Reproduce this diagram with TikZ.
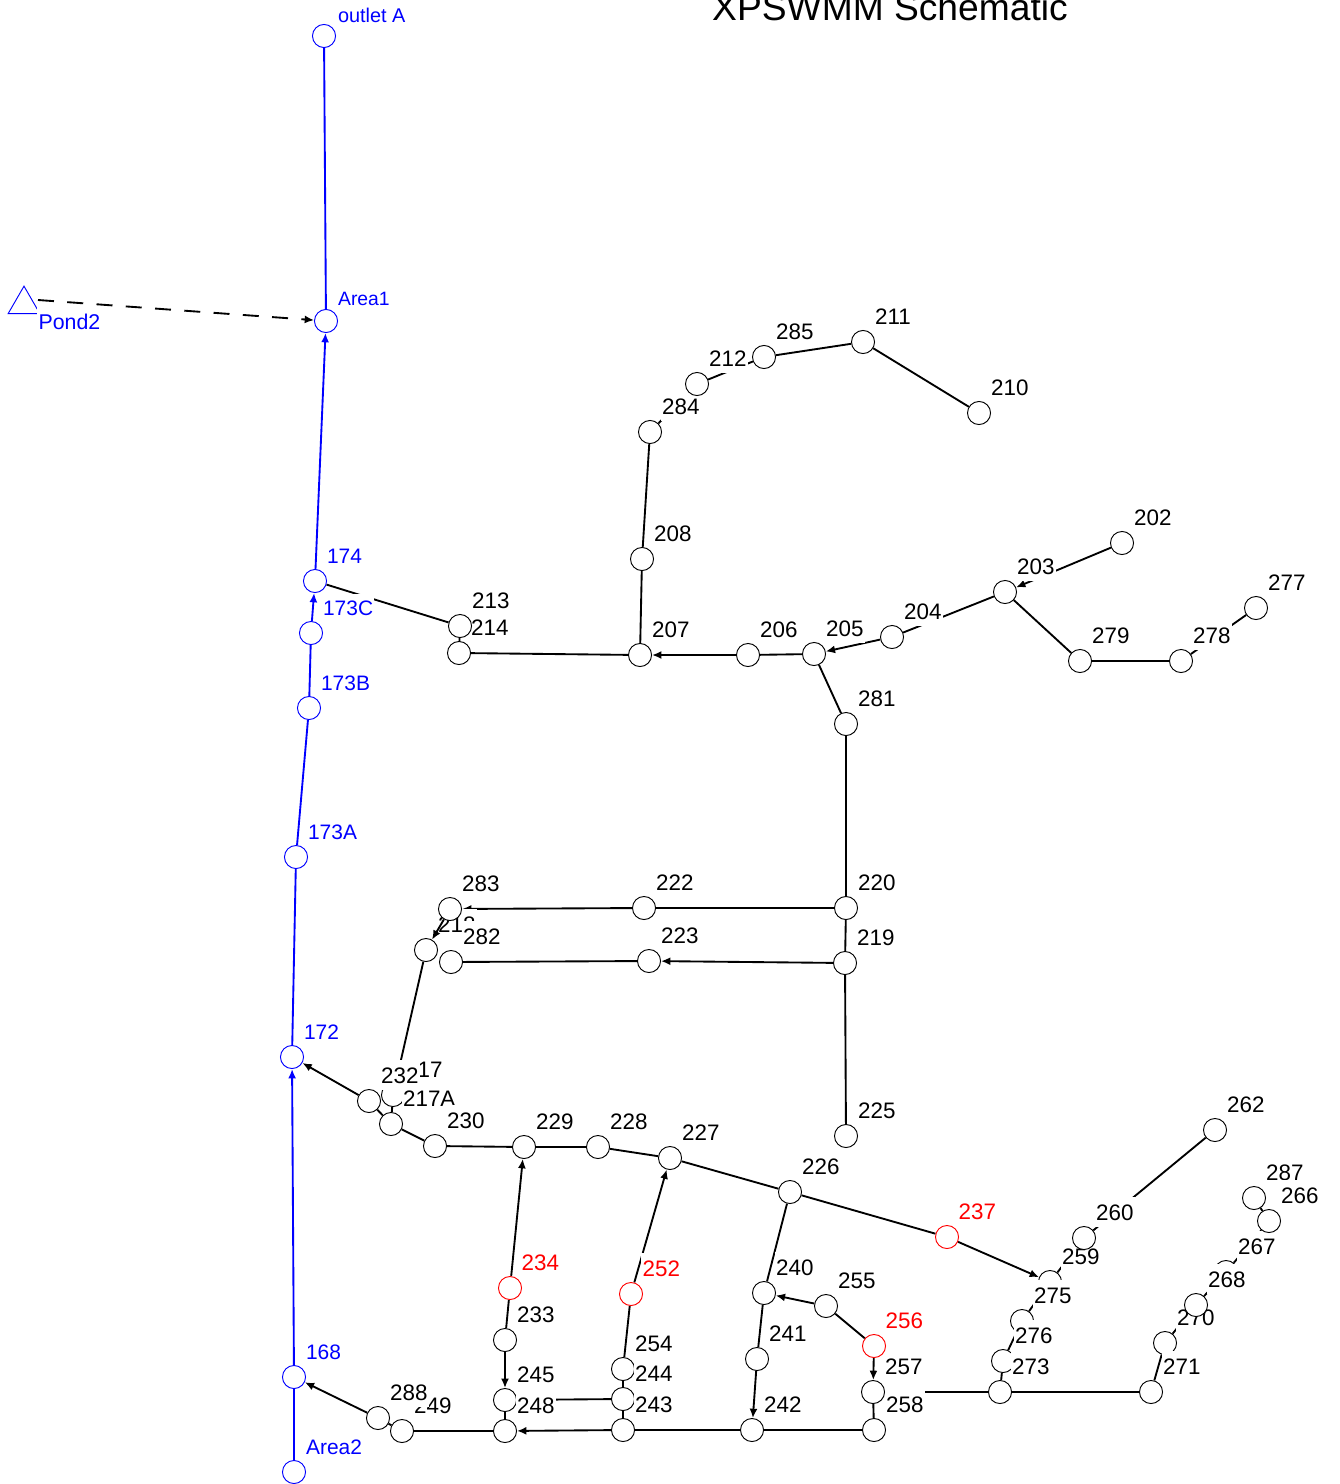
\documentclass[tikz,border=0pt]{standalone}
\usepackage{fontspec}
\setmainfont{Liberation Sans}
\usepackage{tikz}
\usetikzlibrary{arrows.meta,backgrounds,shapes.geometric}
\definecolor{swmmBlue}{HTML}{0000FF}
\definecolor{swmmRed}{HTML}{FF0000}
\begin{document}
\begin{tikzpicture}[x=0.75pt,y=-0.75pt,
    stn/.style={circle,draw=black,line width=0.7pt,fill=white,inner sep=0pt,minimum size=17.3pt},
    lbl/.style={anchor=west,fill=white,inner ysep=0pt,inner xsep=1pt,text height=17pt,text depth=4.8pt,font=\fontsize{16.8}{18}\selectfont},
    bluelbl/.style={lbl,text=swmmBlue,text height=16.5pt,text depth=4.5pt},
    pipe/.style={line width=1.4pt,black},
    flow/.style={pipe,-{Latex[length=7pt,width=6pt]}}]
      \useasboundingbox (0,0) rectangle (1339,1484);
      \node[anchor=base,font=\fontsize{27.9}{30}\selectfont] (title) at (890,21) {XPSWMM Schematic};

      \foreach \id/\x/\y in {
          210/979/413,211/863/342,285/764/357,284/650/432,212/697/384,208/642/559,
          207/640/655,206/748/655,205/814/654,204/892/637,203/1005/592,202/1122/543,
          279/1080/661,278/1181/661,277/1256/608,281/846/724,214/459/653,213/460/626,
          225/846/1136,220/846/908,219/845/963,222/644/908,223/649/961,
          218/426/950,283/450/909,282/451/962,217/393/1095,217A/391/1124,232/369/1101,
          230/435/1146,229/524/1147,228/598/1147,227/670/1158,226/790/1192,
          262/1215/1130,259/1050/1282,260/1084/1238,275/1022/1321,276/1003/1361,273/1000/1392,
          287/1254/1198,267/1226/1272,266/1269/1221,270/1165/1343,268/1196/1305,271/1151/1392,
          233/505/1340,245/505/1400,248/505/1431,254/623/1369,244/623/1399,243/623/1430,
          240/764/1293,241/757/1359,242/752/1430,255/826/1306,257/873/1392,258/874/1430,
          249/402/1431,288/378/1418} {
        \node[stn] (n\id) at (\x,\y) {};
        \node[lbl] (t\id) at ([shift={(10.5,-26)}]n\id.center) {\id};
      }
      \foreach \id/\x/\y in {237/947/1237,234/510/1288,252/631/1294,256/874/1346} {
        \node[stn,draw=swmmRed] (n\id) at (\x,\y) {};
        \node[lbl,text=swmmRed] (t\id) at ([shift={(10,-26)}]n\id.center) {\id};
      }
      \foreach \id/\x/\y in {174/315/581,173C/311/633,173B/309/708,173A/296/857,172/292/1057,168/294/1377,Area2/294/1472} {
        \node[stn,draw=swmmBlue] (n\id) at (\x,\y) {};
        \node[bluelbl,font=\fontsize{15.7}{18}\selectfont] (t\id) at ([shift={(10.5,-25.5)}]n\id.center) {\id};
      }
      \node[stn,draw=swmmBlue] (nOutlet) at (324,36) {};
      \node[bluelbl,font=\fontsize{14.9}{18}\selectfont] (tOutlet) at (336.5,15) {outlet A};
      \node[stn,draw=swmmBlue] (nArea1) at (326,321) {};
      \node[bluelbl,font=\fontsize{14.5}{18}\selectfont] (tArea1) at (336.5,297) {Area1};
      \node[regular polygon,regular polygon sides=3,draw=swmmBlue,line width=0.7pt,inner sep=0pt,minimum size=27.5pt] (nPond2) at (24,304.5) {};
      \node[bluelbl,font=\fontsize{16}{18}\selectfont] (tPond2) at (37,321) {Pond2};
      \coordinate (pondout) at (38,300);

      \begin{scope}[on background layer]
        \foreach \a/\b in {nOutlet/nArea1,n173B/n173C,n173A/n173B,n172/n173A,nArea2/n168}
          \draw[pipe,swmmBlue] (\a) -- (\b);
        \foreach \a/\b in {n174/nArea1,n173C/n174,n168/n172}
          \draw[flow,swmmBlue] (\a) -- (\b);
        \draw[flow,dash pattern=on 12pt off 10pt] (pondout) -- (nArea1);
        \foreach \a/\b in {n174/n213,n213/n214,n214/n207,n206/n205,n204/n203,n203/n279,n279/n278,n278/n277,
            n205/n281,n281/n220,n220/n219,n219/n225,n220/n222,n218/n217,n223/n282,
            n207/n208,n208/n284,n284/n212,n212/n285,n285/n211,n211/n210,
            n217/n217A,n232/n217A,n217A/n230,n230/n229,n229/n228,n228/n227,n227/n226,n226/n237,
            n259/n260,n260/n262,n259/n275,n275/n276,n276/n273,n273/n271,n271/n270,n270/n268,n268/n267,n267/n266,n266/n287,
            n257/n273,n257/n258,n255/n256,n226/n240,n240/n241,n242/n258,n243/n242,n248/n249,n288/n249,
            n245/n248,n245/n244,n244/n243,n254/n244,n252/n254,n234/n233}
          \draw[pipe] (\a) -- (\b);
        \foreach \a/\b in {n206/n207,n204/n205,n202/n203,n222/n283,n219/n223,n232/n172,n288/n168,
            n237/n259,n256/n257,n255/n240,n241/n242,n243/n248,n233/n245,n234/n229,n252/n227}
          \draw[flow] (\a) -- (\b);
      \end{scope}
      \draw[flow] (n283) -- (n218);
    \end{tikzpicture}
\end{document}
